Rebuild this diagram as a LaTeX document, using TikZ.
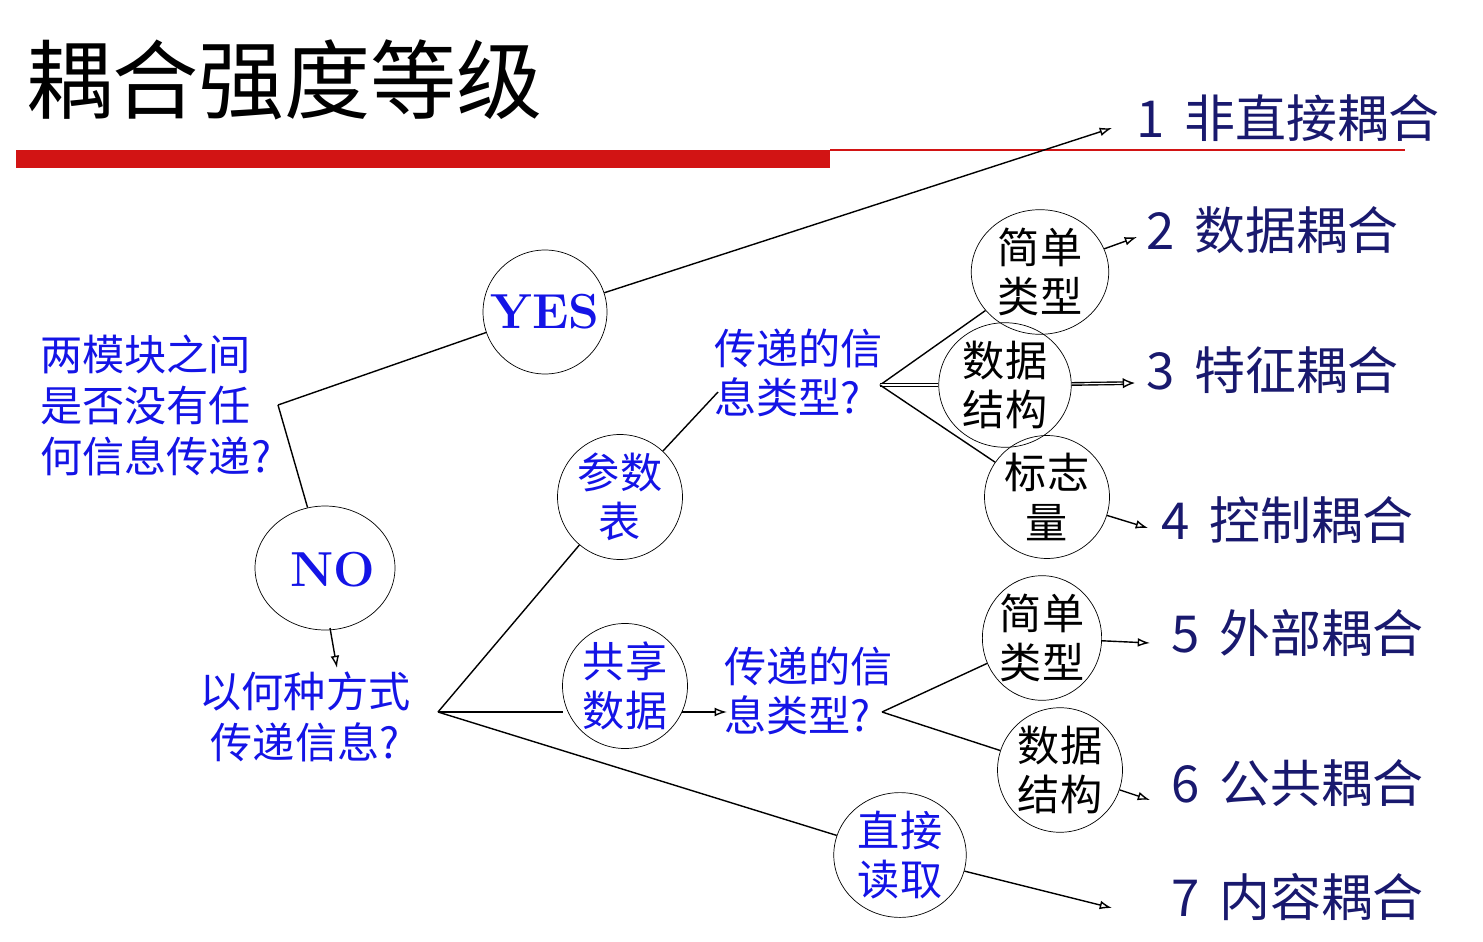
\documentclass[tikz,border=0pt]{standalone}
\usepackage{fontspec}
\newfontfamily\cjk{Noto Sans CJK SC}
\usetikzlibrary{arrows.meta,shapes.geometric}
\definecolor{tb}{RGB}{20,20,230}
\definecolor{nv}{RGB}{25,25,110}
\definecolor{rd}{RGB}{210,20,20}
\begin{document}
\begin{tikzpicture}[x=0.02cm,y=-0.02cm,
  el/.style 2 args={draw,ellipse,minimum width=#1,minimum height=#2,inner sep=0pt},
  ln/.style={draw,line width=0.8pt},
  ar/.style={ln,-{Latex[open,length=7pt,width=5pt]}},
  bt/.style={text=tb,font=\cjk\fontsize{24}{28}\selectfont,align=center},
  kt/.style={text=black,font=\cjk\fontsize{24}{28}\selectfont,align=center},
  lab/.style={text=nv,font=\cjk\fontsize{29}{32}\selectfont,anchor=west}]
\useasboundingbox (0,0) rectangle (1483,942);
\node[anchor=west,font=\cjk\fontsize{49}{52}\selectfont] (title) at (20,80) {耦合强度等级};
\fill[rd] (16,150) rectangle (830,168);
\draw[rd,line width=0.6pt] (830,150) -- (1405,150);
% left question
\node[bt,anchor=west,align=left,font=\cjk\fontsize{24}{29}\selectfont] (q) at (34,405) {两模块之间\\是否没有任\\何信息传递?};
\coordinate (fk1) at (278,405);
\node[el={2.48cm}{2.48cm}] (yes) at (545,312) {};
\node[text=tb,font=\bfseries\fontsize{28}{30}\selectfont] (yt) at (yes) {YES};
\node[el={2.8cm}{2.48cm}] (no) at (325,568) {};
\node[text=tb,font=\bfseries\fontsize{28}{30}\selectfont] (nt) at (333,570) {NO};
\coordinate (e1) at (1112,128);
\draw[ln] (fk1) -- (yes);
\draw[ln] (fk1) -- (no);
\draw[ar] (yes) -- (e1);
\node[lab] (l1) at (1130,118) {1\, 非直接耦合};
\coordinate (nbs) at (330,628);
\coordinate (nb) at (337,668);
\draw[ar] (nbs) -- (nb);
\node[bt,font=\cjk\fontsize{24}{29}\selectfont] (how) at (305,717) {以何种方式\\传递信息?};
\coordinate (fk2) at (438,712);
% param
\node[el={2.5cm}{2.5cm},bt] (cs) at (620,497) {参数\\表};
\node[bt,align=left,anchor=west] (t1) at (708,373) {传递的信\\息类型?};
\coordinate (p1) at (718,392);
\coordinate (f3) at (880,385);
\draw[ln] (fk2) -- (cs);
\draw[ln] (cs) -- (p1);
\node[el={2.75cm}{2.4cm},kt] (a1) at (1040,272) {简单\\类型};
\node[el={2.65cm}{2.3cm},kt] (a2) at (1005,385) {数据\\结构};
\node[el={2.5cm}{2.1cm},kt] (a3) at (1047,497) {标志\\量};
\draw[ln] (f3) -- (a1);
\draw[ln,double] (f3) -- (a2);
\draw[ln] (f3) -- (a3);
\coordinate (e2) at (1137,237);
\coordinate (e3) at (1135,383);
\coordinate (e4) at (1148,528);
\draw[ar] (a1) -- (e2);
\draw[ln,double,-{Latex[open,length=7pt,width=6pt]}] (a2) -- (e3);
\draw[ar] (a3) -- (e4);
\node[lab] (l2) at (1140,230) {2\, 数据耦合};
\node[lab] (l3) at (1140,370) {3\, 特征耦合};
\node[lab] (l4) at (1155,520) {4\, 控制耦合};
% shared
\node[el={2.5cm}{2.4cm},bt] (sh) at (625,686) {共享\\数据};
\coordinate (sl) at (563,712);
\draw[ln] (fk2) -- (sl);
\coordinate (sr) at (682,712);
\coordinate (t2a) at (727,712);
\draw[ar] (sr) -- (t2a);
\node[bt,align=left,anchor=west] (t2) at (718,691) {传递的信\\息类型?};
\coordinate (f4) at (882,712);
\node[el={2.3cm}{2.1cm},kt] (b1) at (1042,638) {简单\\类型};
\node[el={2.5cm}{2.2cm},kt] (b2) at (1060,770) {数据\\结构};
\draw[ln] (f4) -- (b1);
\draw[ln] (f4) -- (b2);
\coordinate (e5) at (1150,643);
\coordinate (e6) at (1150,800);
\draw[ar] (b1) -- (e5);
\draw[ar] (b2) -- (e6);
\node[lab] (l5) at (1165,633) {5\, 外部耦合};
\node[lab] (l6) at (1165,783) {6\, 公共耦合};
% direct
\node[el={2.65cm}{2.4cm},bt] (dr) at (900,855) {直接\\读取};
\draw[ln] (fk2) -- (dr);
\coordinate (e7) at (1112,908);
\draw[ar] (dr) -- (e7);
\node[lab] (l7) at (1165,897) {7\, 内容耦合};
\end{tikzpicture}
\end{document}
